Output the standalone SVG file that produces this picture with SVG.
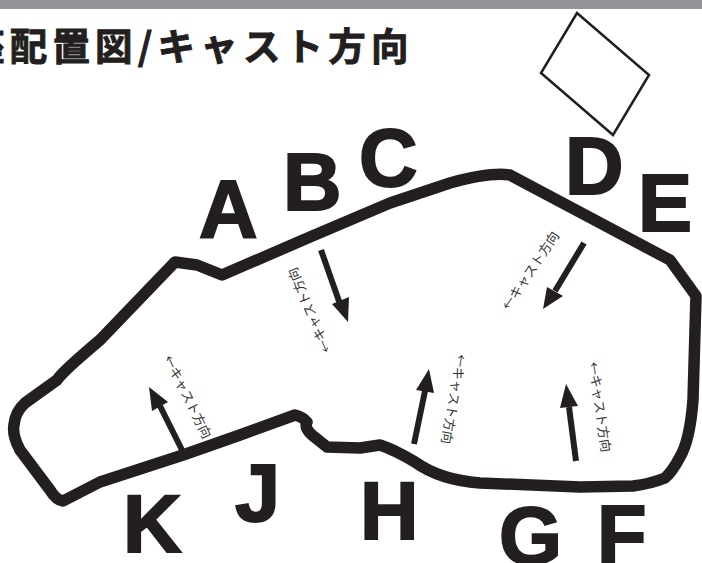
<svg xmlns="http://www.w3.org/2000/svg" width="702" height="563" viewBox="0 0 702 563">
<style>
.l{font:bold 81px "Liberation Sans",Arial,sans-serif;fill:#231f20;stroke:#231f20;stroke-width:2}
.t{font:bold 37.5px "Noto Sans CJK JP","Liberation Sans",sans-serif;fill:#231f20;stroke:#231f20;stroke-width:.9}
.c{font:13px "Noto Sans CJK JP","Liberation Sans",sans-serif;fill:#333;text-anchor:middle}
.a{stroke:#231f20;stroke-width:6;fill:none}
.h{fill:#231f20}
</style>
<rect width="702" height="563" fill="#fff"/>
<rect width="702" height="9" fill="#939598"/>
<text class="t" x="-33" y="60" letter-spacing="5.2">座配置図/キャスト方向</text>
<polygon points="577,13 649,75 613,135 541,73" fill="none" stroke="#231f20" stroke-width="2.5"/>
<path id="outline" fill="none" stroke="#231f20" stroke-width="11.5" stroke-linejoin="round" d="M175,262 L197,265 L222,275 L310,237 L390,203 L450,183 Q490,172 510,175 L670,260 L696,296 L693,400 Q690,440 680,457 Q672,472 665,478 Q650,484 633,486 L580,487 L480,483 Q440,480 415,462 Q395,450 380,445 L360,448 L327,447 L312,435 Q304,428 307,422 Q303,417 295,415 L240,435 L183,455 L100,482 L63,501 Q56,500 50,490 L20,450 Q12,435 14,425 Q15,412 25,403 L57,380 Q62,372 100,340 L175,262 Z"/>
<g id="labels">
<text class="l" x="199" y="237">A</text>
<text class="l" x="283" y="210">B</text>
<text class="l" x="359" y="186">C</text>
<text class="l" x="565" y="194">D</text>
<text class="l" x="638" y="231">E</text>
<text class="l" x="597" y="563">F</text>
<text class="l" x="499" y="564">G</text>
<text class="l" x="360" y="539">H</text>
<text class="l" x="235" y="521">J</text>
<text class="l" x="123" y="552">K</text>
</g>
<g id="arrow-b"><path class="a" d="M321,250 L340,304"/><polygon class="h" points="348,322 332,304 349,297"/><text class="c" transform="translate(310,310) rotate(-112.6)" y="4">←キャスト方向</text></g>
<g id="arrow-k"><path class="a" d="M182,450 L160,406"/><polygon class="h" points="149,387 152,411 168,402"/><text class="c" transform="translate(187,397) rotate(63.7)" y="4">←キャスト方向</text></g>
<g id="arrow-d"><path class="a" d="M584,243 L555,291"/><polygon class="h" points="543,309 547,287 563,296"/><text class="c" transform="translate(531,271) rotate(-56)" y="4">←キャスト方向</text></g>
<g id="arrow-h"><path class="a" d="M414,444 L425,391"/><polygon class="h" points="429,369 416,390 434,393"/><text class="c" transform="translate(453,399) rotate(100)" y="4">←キャスト方向</text></g>
<g id="arrow-f"><path class="a" d="M576,461 L569,407"/><polygon class="h" points="566,384 560,408 578,406"/><text class="c" transform="translate(599,407) rotate(81.8)" y="4">←キャスト方向</text></g>
</svg>
